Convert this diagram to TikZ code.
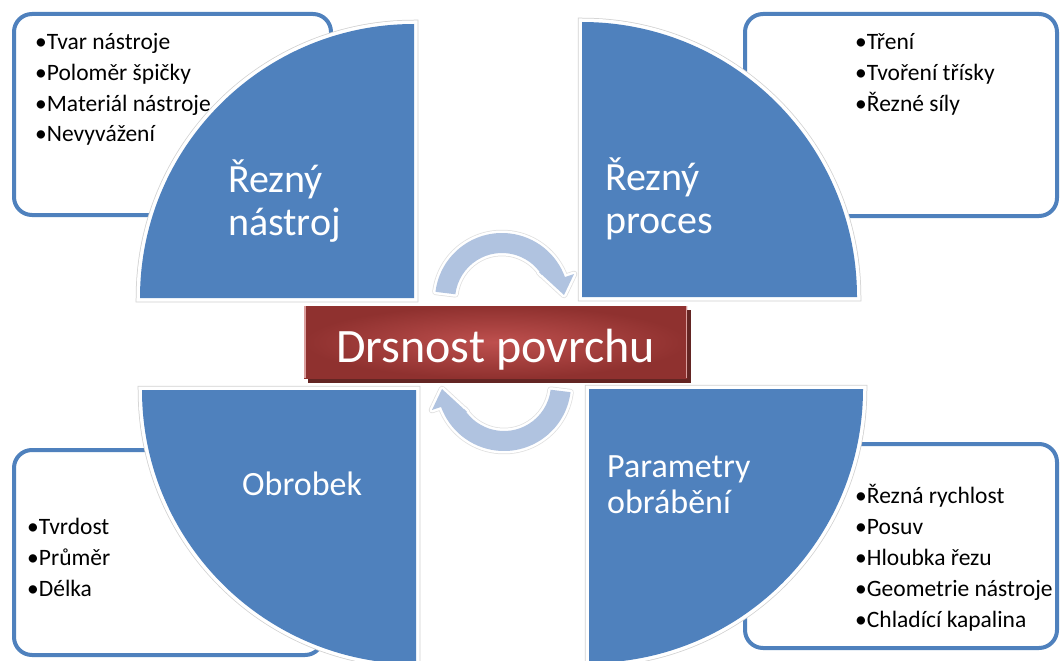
\documentclass[tikz,border=0pt]{standalone}
\usepackage{fontspec}
\setmainfont{Carlito}
\definecolor{qblue}{RGB}{79,129,189}
\definecolor{arrblue}{RGB}{176,195,224}
\definecolor{redin}{RGB}{190,80,78}
\definecolor{redout}{RGB}{143,49,47}
\definecolor{redshadow}{RGB}{99,37,35}
\begin{document}
\begin{tikzpicture}[x=1pt,y=-1pt,
  listbox/.style={draw=qblue, line width=4pt, fill=white, rounded corners=18pt},
  quarter/.style={fill=qblue, preaction={draw=white, line width=7pt, preaction={draw=black!18, line width=8.5pt}}},
  cyc/.style={fill=arrblue, line join=round, preaction={draw=white, line width=5pt, line join=round, preaction={draw=black!12, line width=6.5pt, line join=round}}},
  item/.style={font=\fontsize{23.5}{27}\selectfont, inner sep=0pt, anchor=base west},
  biglabel/.style={font=\fontsize{40}{44}\selectfont, text=white, inner sep=0pt, anchor=base west},
  midlabel/.style={font=\fontsize{34}{38}\selectfont, text=white, inner sep=0pt, anchor=base west},
  corelabel/.style={font=\fontsize{48}{52}\selectfont, text=white, inner sep=0pt, anchor=base}
]
\useasboundingbox (0,0) rectangle (1060,661);
\fill[white] (0,0) rectangle (1060,661);
\clip (0,0) rectangle (1060,661);

% list boxes
\draw[listbox] (14,14) rectangle (331,215);
\draw[listbox] (745,14) rectangle (1057,216);
\draw[listbox] (14,450) rectangle (323,655);
\draw[listbox] (745,444) rectangle (1057,648);

% lists
\foreach \t [count=\i] in {Tvar nástroje, Poloměr špičky, Materiál nástroje, Nevyvážení}
  \node[item] (tl\i) at (35,{50+30.6*(\i-1)}) {•\t};
\foreach \t [count=\i] in {Tření, Tvoření třísky, Řezné síly}
  \node[item] (tr\i) at (855,{50+30.6*(\i-1)}) {•\t};
\foreach \t [count=\i] in {Tvrdost, Průměr, Délka}
  \node[item] (bl\i) at (27,{534+31*(\i-1)}) {•\t};
\foreach \t [count=\i] in {Řezná rychlost, Posuv, Hloubka řezu, Geometrie nástroje, Chladící kapalina}
  \node[item] (br\i) at (855,{503+31*(\i-1)}) {•\t};

% quarter circles
\path[quarter] (414,298) -- (140,298) arc[start angle=180, end angle=270, radius=274] -- cycle;
\path[quarter] (582,297) -- (582,22) arc[start angle=270, end angle=360, radius=275] -- cycle;
\path[quarter] (416,390) -- (142,390) arc[start angle=180, end angle=90, radius=274] -- cycle;
\path[quarter] (589,389) -- (863,389) arc[start angle=0, end angle=90, radius=274] -- cycle;

% quarter labels
\node[biglabel] (l1a) at (228,192) {Řezný};
\node[biglabel] (l1b) at (228,235) {nástroj};
\node[biglabel] (l2a) at (605,190) {Řezný};
\node[biglabel] (l2b) at (605,233) {proces};
\node[midlabel] (l3) at (242,495) {Obrobek};
\node[midlabel] (l4a) at (607,477) {Parametry};
\node[midlabel] (l4b) at (607,513) {obrábění};

% cycle arrows
\begin{scope}[shift={(502,300)}]
  \path[cyc] (187:67) arc[start angle=187, end angle=340, radius=67] -- (72,-26) -- (62,-5) -- (37,-28) -- (328:47) arc[start angle=328, end angle=187, radius=47] -- cycle;
\end{scope}
\begin{scope}[shift={(504,384)}, rotate=180]
  \path[cyc] (187:67) arc[start angle=187, end angle=340, radius=67] -- (72,-26) -- (62,-5) -- (37,-28) -- (328:47) arc[start angle=328, end angle=187, radius=47] -- cycle;
\end{scope}

% central box
\fill[redshadow] (308,310) rectangle (691,383);
\path[inner color=redin, outer color=redout] (304,306) rectangle (687,378);
\draw[redin!55!white, line width=1.5pt] (304.75,306) -- (304.75,378);
\draw[redin!55!white, line width=1.5pt] (686.25,306) -- (686.25,378);
\node[corelabel] (core) at (495.5,362) {Drsnost povrchu};
\end{tikzpicture}
\end{document}
